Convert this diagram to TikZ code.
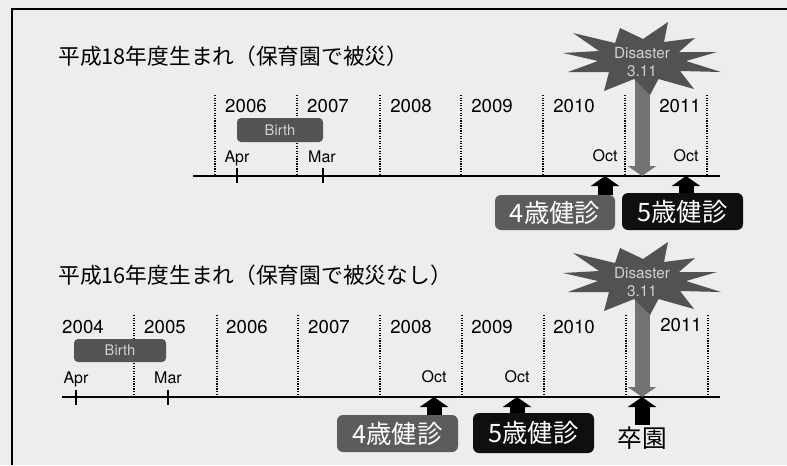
\documentclass[tikz,border=0pt]{standalone}
\usepackage{fontspec}
\setmainfont{TeX Gyre Heros}
\newfontfamily\jp{Noto Sans CJK JP}
\usetikzlibrary{arrows.meta}
\definecolor{bg}{gray}{0.93}
\definecolor{burstgray}{gray}{0.32}
\definecolor{shaftgray}{gray}{0.45}
\definecolor{birthgray}{gray}{0.33}
\definecolor{midbox}{gray}{0.36}
\definecolor{darkbox}{gray}{0.06}
\definecolor{paletext}{gray}{0.82}
\tikzset{
  burst/.pic={\fill[burstgray] (-79,-7) -- (-43,-9) -- (-69,-27) -- (-27,-17) -- (-22,-32) -- (1,-21) -- (26,-38) -- (22,-18) -- (53,-22) -- (37,-8) -- (75,-8) -- (44,1) -- (79,12) -- (38,11) -- (52,29) -- (16.5,19) -- (8,35) -- (-8,19) -- (-38,31) -- (-33,12) -- (-74,12) -- (-44,1) -- cycle;}
}
\begin{document}
\begin{tikzpicture}[x=0.75pt,y=-0.75pt,
  yr/.style={font=\fontsize{14}{14}\selectfont, anchor=base, inner sep=0},
  mon/.style={font=\fontsize{12}{12}\selectfont, anchor=base, inner sep=0},
  ttl/.style={font=\jp\fontsize{16.3}{17}\selectfont, anchor=west, inner sep=0},
  sepline/.style={densely dotted, line width=0.9pt},
  axisline/.style={line width=1.5pt},
  tickline/.style={line width=1.1pt},
  birthbox/.style={fill=birthgray, rounded corners=3pt, text=paletext, inner sep=0, font=\fontsize{11}{11}\selectfont},
  exambox/.style={rounded corners=4.5pt, text=white, inner sep=0, font=\jp\fontsize{19}{19}\selectfont},
  uparrow/.style={line width=11.25pt, black, -{Triangle[width=21pt,length=7.5pt]}},
  downarrow/.style={line width=11.25pt, shaftgray, -{Triangle[width=21pt,length=7.5pt]}},
  distext/.style={text=paletext, align=center, font=\fontsize{11.5}{14}\selectfont, inner sep=0},
]
\fill[bg] (0,0) rectangle (787,465);
\useasboundingbox (0,0) rectangle (787,465);
\draw[line width=1.3pt] (12,465) -- (12,9) -- (787,9);

% ---------- top panel ----------
\node[ttl] (t1) at (58,56) {平成18年度生まれ（保育園で被災）};
\foreach \x in {215,297,380,461,543,625,707} \draw[sepline] (\x,95) -- (\x,176);
\coordinate (a1s) at (193,176); \coordinate (a1e) at (720,176);
\draw[axisline] (a1s) -- (a1e);
\draw[tickline] (237,168) -- (237,183);
\draw[tickline] (323,168) -- (323,183);
\node[birthbox, minimum width=64.5pt, minimum height=18pt] (b1) at (280,130) {Birth};
\node[yr] (y1a) at (246,112) {2006};
\node[yr] (y1b) at (328,112) {2007};
\node[yr] (y1c) at (411,112) {2008};
\node[yr] (y1d) at (492,112) {2009};
\node[yr] (y1e) at (574,112) {2010};
\node[yr] (y1f) at (680,112) {2011};
\node[mon] (m1a) at (237,162) {Apr};
\node[mon] (m1b) at (322,162) {Mar};
\node[mon] (m1c) at (605,161) {Oct};
\node[mon] (m1d) at (686,161) {Oct};
\coordinate (d1c) at (642,60); \coordinate (d1e) at (642,176);
\draw[downarrow] (d1c) -- (d1e);
\pic at (d1c) {burst};
\node[distext] (dis1) at (642,62) {Disaster\\3.11};
\coordinate (o1a) at (605,176); \coordinate (o1b) at (686,176);
\node[exambox, fill=midbox, minimum width=90pt, minimum height=26.25pt] (e1a) at (555,212.5) {4歳健診};
\node[exambox, fill=darkbox, minimum width=90.75pt, minimum height=27.75pt] (e1b) at (682.5,211.5) {5歳健診};
\draw[uparrow] (e1a.north -| o1a) -- (o1a);
\draw[uparrow] (e1b.north -| o1b) -- (o1b);

% ---------- bottom panel ----------
\node[ttl] (t2) at (58,275) {平成16年度生まれ（保育園で被災なし）};
\foreach \x in {134,217,298,380,462,544,626,708} \draw[sepline] (\x,315) -- (\x,397);
\coordinate (a2s) at (62,397); \coordinate (a2e) at (720,397);
\draw[axisline] (a2s) -- (a2e);
\draw[tickline] (76,390) -- (76,405);
\draw[tickline] (168,390) -- (168,405);
\node[birthbox, minimum width=69pt, minimum height=17.25pt] (b2) at (120,350.5) {Birth};
\node[yr] (y2a) at (83,333) {2004};
\node[yr] (y2b) at (165,333) {2005};
\node[yr] (y2c) at (247,333) {2006};
\node[yr] (y2d) at (329,333) {2007};
\node[yr] (y2e) at (411,333) {2008};
\node[yr] (y2f) at (492,333) {2009};
\node[yr] (y2g) at (574,333) {2010};
\node[yr] (y2h) at (681,331) {2011};
\node[mon] (m2a) at (76,383) {Apr};
\node[mon] (m2b) at (168,383) {Mar};
\node[mon] (m2c) at (434,382) {Oct};
\node[mon] (m2d) at (517,382) {Oct};
\coordinate (d2c) at (642,280); \coordinate (d2e) at (642,397);
\draw[downarrow] (d2c) -- (d2e);
\pic at (d2c) {burst};
\node[distext] (dis2) at (642,282) {Disaster\\3.11};
\coordinate (o2a) at (434,397); \coordinate (o2b) at (517,397);
\node[exambox, fill=midbox, minimum width=90.75pt, minimum height=27.75pt] (e2a) at (397.5,433.5) {4歳健診};
\node[exambox, fill=darkbox, minimum width=90.75pt, minimum height=30pt] (e2b) at (533.5,433) {5歳健診};
\node[font=\jp\fontsize{18.5}{18.5}\selectfont, inner sep=1pt] (sot) at (642,438) {卒園};
\draw[uparrow] (e2a.north -| o2a) -- (o2a);
\draw[uparrow] (e2b.north -| o2b) -- (o2b);
\draw[uparrow] (sot.north) -- (d2e);
\end{tikzpicture}
\end{document}
